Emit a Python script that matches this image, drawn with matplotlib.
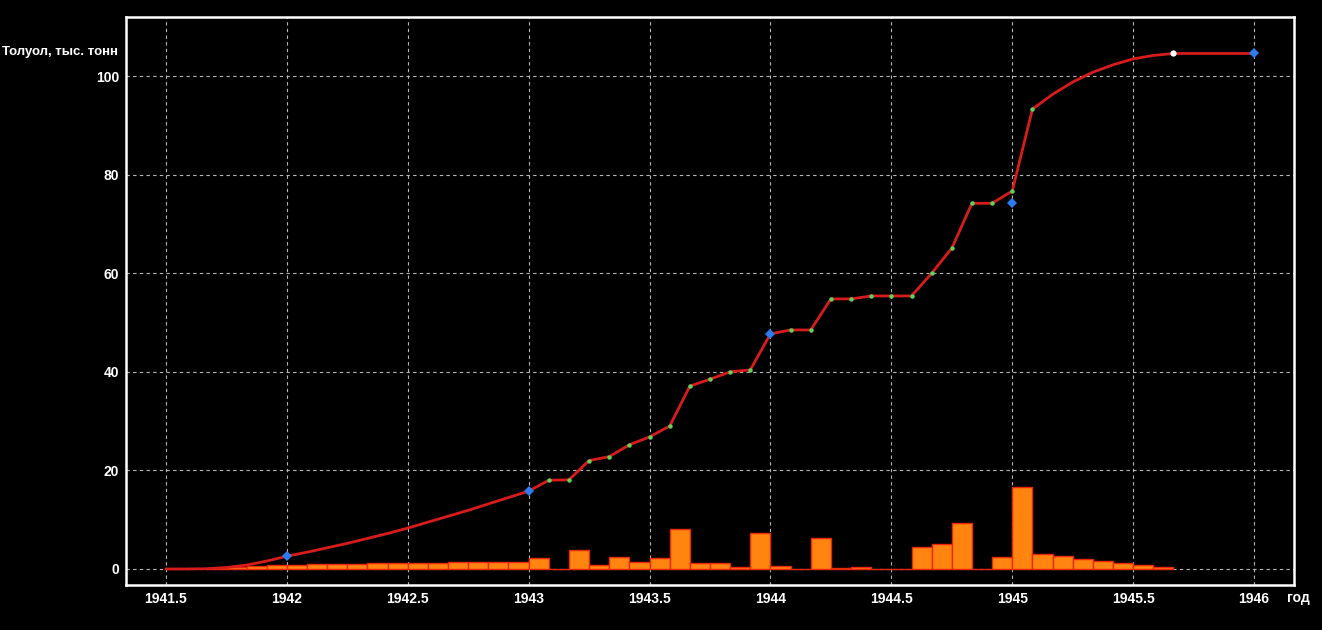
import numpy as np
import matplotlib
matplotlib.use("Agg")
import matplotlib.pyplot as plt

# ---- data ----
bar_first_month = 1941 + 8 / 12          # first monthly bar starts Sept 1941
bar_values = [0.15, 0.35, 0.6, 0.75,
              0.75, 1.0, 1.0, 1.0, 1.2, 1.2, 1.2, 1.2, 1.35, 1.35, 1.35, 1.35,
              2.2, 0.0, 3.8, 0.9, 2.35, 1.5, 2.15, 8.1, 1.3, 1.3, 0.35, 7.2,
              0.7, 0.0, 6.2, 0.1, 0.5, 0.0, 0.0, 4.5, 5.0, 9.3, 0.0, 2.4,
              16.7, 2.97, 2.57, 1.96, 1.55, 1.15, 0.74, 0.4]

curve_first_month = 1941.5
curve_values = [0.0, 0.0, 0.05, 0.3, 0.8, 1.6,
                2.6, 3.4, 4.3, 5.2, 6.2, 7.2, 8.3, 9.5, 10.7, 11.9, 13.2, 14.5,
                15.8, 18.0, 18.1, 22.0, 22.8, 25.2, 26.8, 29.0, 37.1, 38.5, 40.0, 40.4,
                47.7, 48.5, 48.5, 54.8, 54.8, 55.4, 55.4, 55.4, 60.0, 65.1, 74.2, 74.2,
                76.7, 93.3, 96.3, 98.8, 100.8, 102.3, 103.5, 104.2, 104.6,
                104.6, 104.6, 104.6, 104.6]

green_first_idx = 19   # 1943 + 1 month
green_last_idx = 43    # 1945 + 1 month

blue_years = [1942, 1943, 1944, 1945, 1946]
blue_values = [2.6, 15.8, 47.7, 74.2, 104.6]

white_year = [1945 + 8 / 12]
white_value = [104.6]

x_ticks = [1941.5, 1942, 1942.5, 1943, 1943.5, 1944, 1944.5, 1945, 1945.5, 1946]
x_tick_labels = ["1941.5", "1942", "1942.5", "1943", "1943.5", "1944",
                 "1944.5", "1945", "1945.5", "1946"]
y_ticks = [0, 20, 40, 60, 80, 100]
y_label = "Толуол, тыс. тонн"
x_label = "год"

# ---- figure ----
plt.rcParams['font.family'] = ['Liberation Sans', 'DejaVu Sans']
fig = plt.figure(figsize=(13.22, 6.30), dpi=100, facecolor='black')
ax = fig.add_axes([126 / 1322, 1 - 585 / 630, (1294 - 126) / 1322, (585 - 17) / 630])
ax.set_facecolor('black')

bx = bar_first_month + np.arange(len(bar_values)) / 12
ax.bar(bx, bar_values, width=1 / 12, align='edge', color='#FF8410',
       edgecolor='#E8280A', linewidth=1.0, zorder=3)

cx = curve_first_month + np.arange(len(curve_values)) / 12
cy = np.array(curve_values)
ax.plot(cx, cy, color='#D81C1C', linewidth=2.0, zorder=4, solid_capstyle='round')

gi = np.arange(green_first_idx, green_last_idx + 1)
ax.plot(cx[gi], cy[gi], linestyle='none', marker='o', markersize=3.2,
        color='#5ED45E', markeredgewidth=0, zorder=5)
ax.plot(blue_years, blue_values, linestyle='none', marker='D', markersize=5,
        color='#2C7CF0', markeredgewidth=0, zorder=6)
ax.plot(white_year, white_value, linestyle='none', marker='o', markersize=4.5,
        color='white', markeredgewidth=0, zorder=6)

ax.set_xlim(1941.335, 1946.165)
ax.set_ylim(-3.25, 112)
ax.set_xticks(x_ticks)
ax.set_xticklabels(x_tick_labels)
ax.set_yticks(y_ticks)
ax.tick_params(axis='both', length=0, colors='white', labelsize=10)
ax.tick_params(axis='x', pad=5)
ax.tick_params(axis='y', pad=5)
for lab in ax.get_xticklabels() + ax.get_yticklabels():
    lab.set_fontweight('bold')

ax.grid(True, color='#B8B8B8', linestyle=(0, (3, 3)), linewidth=0.8, zorder=1)
ax.set_axisbelow(True)
for s in ax.spines.values():
    s.set_color('white')
    s.set_linewidth(1.8)

fig.text(2 / 1322, 1 - 52 / 630, y_label, color='white', fontsize=9.5,
         fontweight='bold', ha='left', va='center')
fig.text(1287 / 1322, 1 - 598 / 630, x_label, color='white', fontsize=10,
         fontweight='bold', ha='left', va='center')

fig.savefig('out.png', dpi=100, facecolor='black')
